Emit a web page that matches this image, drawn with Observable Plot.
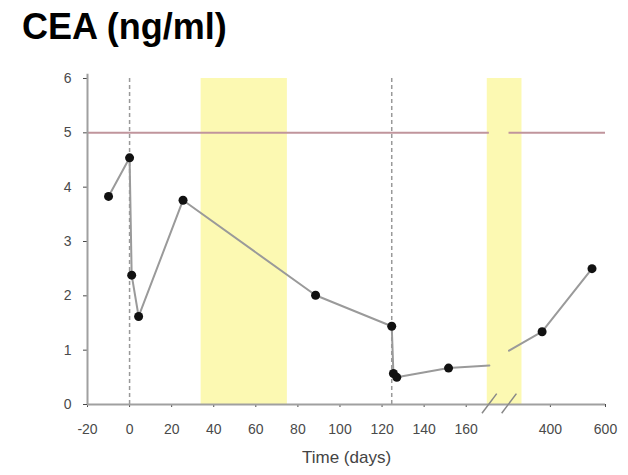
<!DOCTYPE html>
<html><head><meta charset="utf-8">
<script src="https://cdn.jsdelivr.net/npm/d3@7"></script>
<script src="https://cdn.jsdelivr.net/npm/@observablehq/plot@0.6"></script>
<style>
body{margin:0;background:#fff;}
#wrap{width:628px;height:475px;position:relative;overflow:hidden;font-family:"Liberation Sans",Arial,sans-serif;}
#title{height:58px;position:relative;}
#title span{position:absolute;left:22px;top:9px;font-size:36px;line-height:36px;font-weight:bold;color:#000;white-space:nowrap;}
</style></head><body>
<div id="wrap"><div id="title"><span>CEA (ng/ml)</span></div><div id="chart"></div></div>
<script>
// Measurements: day vs CEA (ng/ml)
const days = [-10, 0, 1, 4.3, 25.4, 88.4, 124.6, 125.4, 127, 151.6, 370, 551];
const cea  = [3.83, 4.54, 2.38, 1.62, 3.76, 2.01, 1.44, 0.57, 0.50, 0.67, 1.34, 2.50];
// line values where it meets the axis break (left edge, right edge)
const breakDays = [171, 250];
const breakEdgeValues = [0.72, 0.99];
// treatment periods (shaded), event markers, normal upper limit
const bandStart = [34, 170];
const bandEnd = [75, 297];
const markerDays = [0, 124.6];
const upperLimit = 5;
// axis ticks
const tickDays = [-20, 0, 20, 40, 60, 80, 100, 120, 140, 160, 400, 600];
const yTicks = [0, 1, 2, 3, 4, 5, 6];

// broken axis: linear up to the break, compressed after it
const rightAnchorDay = 400, rightAnchorPos = 200, rightScale = 0.131;
const pos = d => d <= breakDays[0] ? d : rightAnchorPos + (d - rightAnchorDay) * rightScale;

const points = days.map((d, i) => ({x: pos(d), y: cea[i]}));
const lineData = [
  ...days.map((d, i) => ({x: pos(d), y: cea[i], s: d <= breakDays[0] ? 1 : 2})),
  {x: pos(breakDays[0]), y: breakEdgeValues[0], s: 1},
  {x: pos(breakDays[1]), y: breakEdgeValues[1], s: 2}
].sort((a, b) => a.x - b.x);
const bands = bandStart.map((s, i) => ({x1: pos(s), x2: pos(bandEnd[i])}));
const limitSegs = [{x1: pos(tickDays[0]), x2: pos(breakDays[0])}, {x1: pos(breakDays[1]), x2: pos(tickDays[tickDays.length - 1])}];
const tickPos = tickDays.map(pos);

const chart = Plot.plot({
  width: 628, height: 417,
  marginLeft: 87, marginRight: 23, marginTop: 20, marginBottom: 71,
  style: {fontFamily: "Liberation Sans, Arial, sans-serif", fontSize: "14px", color: "#4a4a4a", background: "#fff"},
  x: {domain: [pos(tickDays[0]), pos(tickDays[tickDays.length - 1])], ticks: tickPos,
      tickFormat: d => String(tickDays[tickPos.indexOf(d)]), tickSize: 3, tickPadding: 17, label: null},
  y: {domain: [0, 6], ticks: yTicks, tickFormat: d => String(d), tickSize: 4, tickPadding: 12, label: null},
  marks: [
    Plot.rect(bands, {x1: "x1", x2: "x2", y1: 0, y2: 6, fill: "#fcf9b2"}),
    Plot.ruleX(markerDays.map(pos), {y1: 0, y2: 6, stroke: "#999", strokeWidth: 1.5, strokeDasharray: "4,3"}),
    Plot.ruleY(limitSegs, {y: upperLimit, x1: "x1", x2: "x2", stroke: "#c0959c", strokeWidth: 2}),
    Plot.line(lineData, {x: "x", y: "y", z: "s", stroke: "#9a9a9a", strokeWidth: 2}),
    Plot.dot(points, {x: "x", y: "y", r: 4.5, fill: "#111", stroke: "none"}),
    Plot.ruleY([0], {stroke: "#a0a0a0", strokeWidth: 2}),
    Plot.ruleX([pos(tickDays[0])], {y1: 0, y2: 6.08, stroke: "#a0a0a0", strokeWidth: 2}),
    Plot.link(breakDays, {x1: d => pos(d) - 3.5, x2: d => pos(d) + 3.5, y1: -0.16, y2: 0.2, stroke: "#888", strokeWidth: 1.5}),
    Plot.text(["Time (days)"], {text: d => d, frameAnchor: "bottom", dy: 58, fontSize: 17, fill: "#444"})
  ]
});
document.getElementById("chart").appendChild(chart);
</script>
</body></html>
